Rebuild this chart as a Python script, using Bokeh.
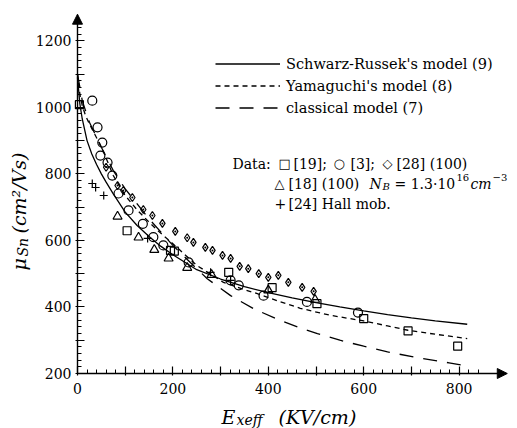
import math
from bokeh.plotting import figure
from bokeh.models import Range1d, FixedTicker, Label, Legend, LegendItem, Arrow, NormalHead
from bokeh.embed import file_html
from bokeh.resources import INLINE

# ---- model curves ----
sr_x = [0, 5, 10, 20, 30, 40, 50, 60, 75, 100, 125, 150, 175, 200, 250, 300, 350, 400, 450, 500, 550, 600, 650, 700, 750, 817]
sr_y = [1090, 1010, 965, 900, 860, 828, 800, 775, 740, 685, 645, 612, 582, 557, 512, 484, 461, 443, 427, 413, 400, 388, 377, 367, 358, 348]

ya_x = [0, 5, 10, 17, 25, 34, 45, 55, 65, 75, 100, 126, 150, 168, 200, 250, 306, 350, 377, 420, 467, 530, 600, 650, 693, 750, 817]
ya_y = [1100, 1040, 1005, 975, 950, 925, 895, 865, 830, 795, 735, 690, 655, 630, 590, 525, 474, 452, 440, 418, 396, 375, 358, 343, 330, 318, 305]

cl_x = [0, 10, 25, 50, 75, 100, 150, 200, 250, 272, 321, 369, 419, 467, 503, 550, 600, 650, 710, 779, 817]
cl_y = [1100, 1020, 955, 880, 810, 755, 665, 585, 515, 485, 434, 395, 363, 337, 320, 300, 282, 265, 248, 232, 222]

# ---- measured data ----
sq_x = [4, 104, 195, 203, 317, 408, 502, 600, 693, 797]
sq_y = [1008, 629, 570, 568, 504, 458, 410, 365, 328, 282]

ci_x = [31, 42, 52, 48, 63, 73, 86, 107, 137, 159, 180, 233, 321, 338, 390, 481, 588]
ci_y = [1020, 940, 894, 855, 834, 795, 741, 690, 650, 610, 585, 534, 480, 465, 434, 415, 383]

di_x = [60, 84, 96, 115, 138, 157, 178, 205, 230, 243, 268, 283, 304, 321, 340, 358, 380, 400, 421, 442, 471, 495]
di_y = [820, 765, 750, 729, 693, 675, 651, 627, 608, 594, 579, 570, 555, 546, 522, 515, 500, 489, 495, 474, 459, 447]

tr_x = [84, 128, 161, 191, 230, 281, 400, 498]
tr_y = [672, 609, 572, 546, 518, 497, 450, 422]

pl_x = [31, 38, 55, 147, 279, 321]
pl_y = [771, 759, 735, 606, 504, 480]

x_major = [0, 100, 200, 300, 400, 500, 600, 700, 800]
x_minor = list(range(0, 841, 20))
y_major = [200, 300, 400, 500, 600, 700, 800, 900, 1000, 1100, 1200]
y_minor = list(range(200, 1241, 20))
x_labels = {0: "0", 100: "", 200: "200", 300: "", 400: "400", 500: "", 600: "600", 700: "", 800: "800"}
y_labels = {200: "200", 300: "", 400: "400", 500: "", 600: "600", 700: "", 800: "800",
            900: "", 1000: "1000", 1100: "", 1200: "1200"}

SERIF = "DejaVu Serif"
W, H = 517, 428

p = figure(width=W, height=H,
           x_range=Range1d(-161.4, 922.4), y_range=Range1d(34.7, 1321.1),
           output_backend="svg", toolbar_location=None,
           min_border_left=0, min_border_right=0, min_border_top=0, min_border_bottom=0)
p.outline_line_color = None
p.grid.visible = False
p.xaxis.fixed_location = 200
p.yaxis.fixed_location = 0
p.xaxis.bounds = (0, 890)
p.yaxis.bounds = (200, 1270)

for ax, maj, mnr, lab_, standoff in [(p.xaxis[0], x_major, x_minor, x_labels, 7),
                                      (p.yaxis[0], y_major, y_minor, y_labels, 4)]:
    ax.ticker = FixedTicker(ticks=maj, minor_ticks=mnr)
    ax.major_label_overrides = lab_
    ax.axis_line_width = 1.4
    ax.axis_line_color = "black"
    ax.major_tick_in = 7
    ax.major_tick_out = 2
    ax.minor_tick_in = 4
    ax.minor_tick_out = 0
    ax.major_tick_line_width = 1.2
    ax.minor_tick_line_width = 1.0
    ax.major_tick_line_color = "black"
    ax.minor_tick_line_color = "black"
    ax.major_label_text_font = SERIF
    ax.major_label_text_font_size = "14px"
    ax.major_label_text_color = "black"
    ax.major_label_standoff = standoff

r_sr = p.line(sr_x, sr_y, line_color="black", line_width=1.3)
r_ya = p.line(ya_x, ya_y, line_color="black", line_width=1.3, line_dash="5 4")
r_cl = p.line(cl_x, cl_y, line_color="black", line_width=1.3, line_dash="14 10")

mk = dict(line_color="black", fill_alpha=0, line_width=1.2)
p.scatter(sq_x, sq_y, marker="square", size=8, **mk)
p.scatter(ci_x, ci_y, marker="circle", size=9, **mk)
p.scatter(di_x, di_y, marker="diamond_dot", size=8, **mk)
p.scatter(tr_x, tr_y, marker="triangle", size=9, **mk)
p.scatter(pl_x, pl_y, marker="cross", size=8, **mk)

# axis arrows
p.add_layout(Arrow(end=NormalHead(size=10, fill_color="black", line_color="black"),
                   x_start=880, y_start=200, x_end=901, y_end=200, line_width=1.4))
p.add_layout(Arrow(end=NormalHead(size=10, fill_color="black", line_color="black"),
                   x_start=0, y_start=1250, x_end=0, y_end=1280, line_width=1.4))

legend = Legend(items=[LegendItem(label="Schwarz-Russek's model (9)", renderers=[r_sr]),
                       LegendItem(label="Yamaguchi's model (8)", renderers=[r_ya]),
                       LegendItem(label="classical model (7)", renderers=[r_cl])],
                location=(215, 311), glyph_width=65, glyph_height=19, label_height=19,
                label_standoff=6, spacing=3, padding=0, margin=0,
                border_line_alpha=0, background_fill_alpha=0,
                label_text_font=SERIF, label_text_font_size="14.5px", label_text_color="black")
p.add_layout(legend)

def lab(text, x, base, size="14px", style="normal", angle=0):
    # x, base: pixel position from top-left of the canvas
    p.add_layout(Label(x=x, y=H - base, x_units="screen", y_units="screen", text=text,
                       text_font=SERIF, text_font_size=size, text_font_style=style,
                       text_color="black", angle=angle, text_baseline="alphabetic",
                       text_align="left"))

# data block
lab("Data:", 232, 163)
lab("\u25a1", 278, 163, size="13px")
lab("[19];", 293, 163)
lab("\u25cb", 333, 163, size="13px")
lab("[3];", 350, 163)
lab("\u25c7", 382, 163, size="13px")
lab("[28] (100)", 396, 163)

lab("\u25b3", 274, 183, size="13px")
lab("[18] (100)", 288, 183)
lab("N", 369, 183, style="italic")
lab("B", 382, 186, size="10px", style="italic")
lab("= 1.3\u00b710", 394, 183)
lab("16", 456, 177, size="10px")
lab("cm", 470, 183, style="italic")
lab("\u22123", 492, 177, size="10px")

lab("+", 274, 203)
lab("[24] Hall mob.", 288, 203)

# axis titles
lab("E", 221, 416, size="19px", style="italic")
lab("xeff", 236, 419, size="14px", style="italic")
lab("(KV/cm)", 278, 416, size="19px", style="italic")

lab("\u03bc", 18, 270, size="19px", style="italic", angle=math.pi / 2)
lab("Sn", 22, 256, size="14px", style="italic", angle=math.pi / 2)
lab("(cm\u00b2/Vs)", 18, 233, size="19px", style="italic", angle=math.pi / 2)

open("out.html", "w").write(file_html(p, INLINE))
